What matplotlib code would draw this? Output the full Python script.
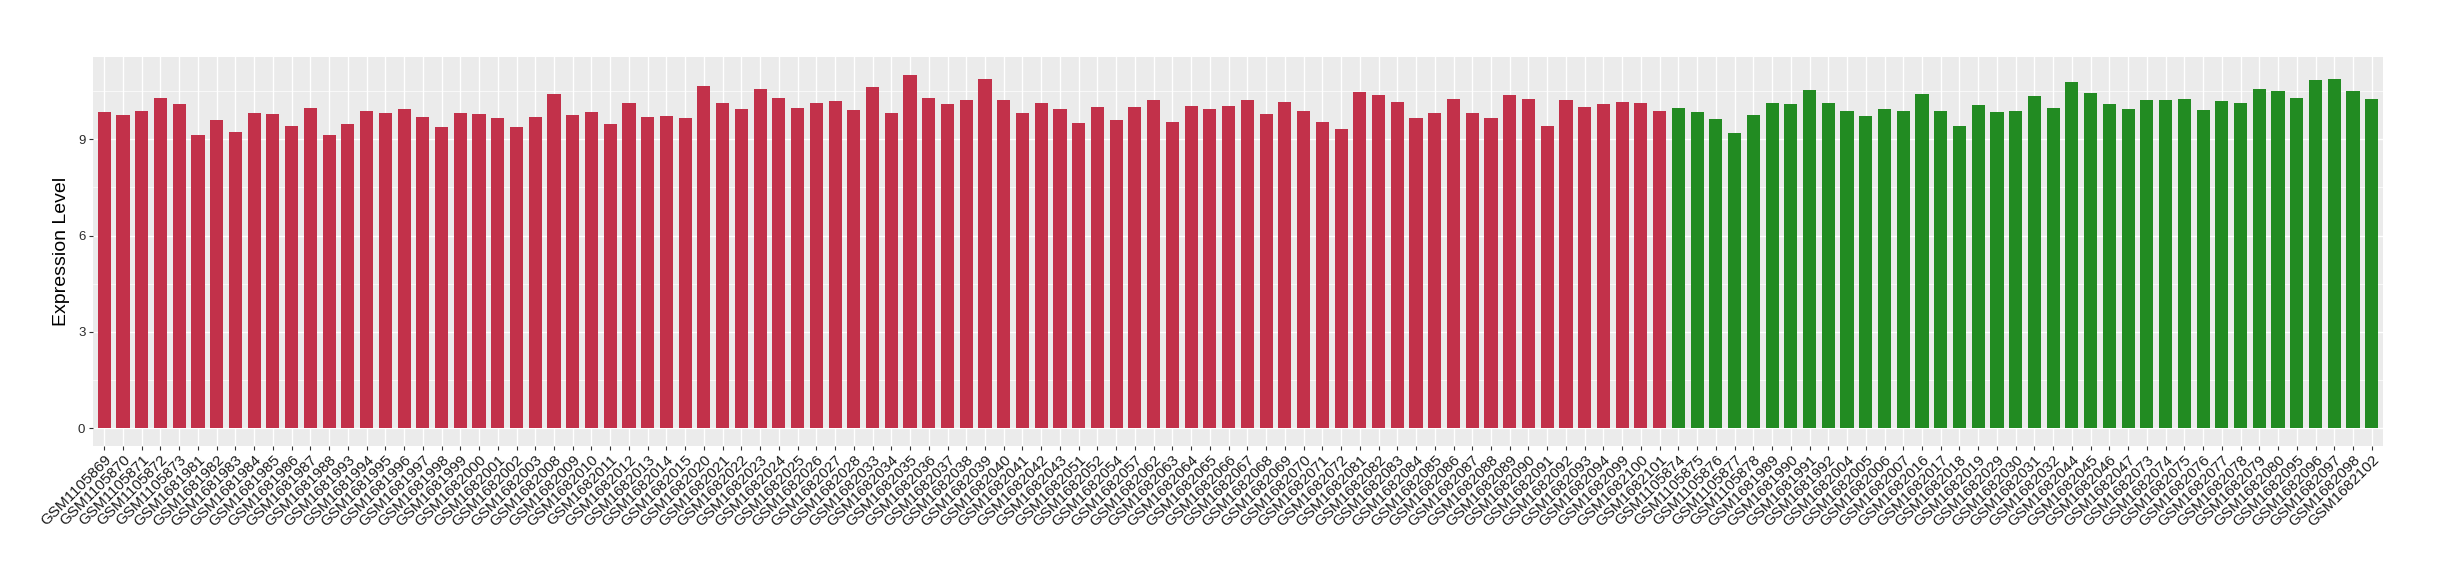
import numpy as np
import matplotlib
matplotlib.use("Agg")
import matplotlib.pyplot as plt

plt.rcParams['font.family'] = ['Liberation Sans', 'DejaVu Sans']

# samples in the first group (red)
red_samples = [
    "GSM1105869", "GSM1105870", "GSM1105871", "GSM1105872", "GSM1105873",
    "GSM1681981", "GSM1681982", "GSM1681983", "GSM1681984", "GSM1681985",
    "GSM1681986", "GSM1681987", "GSM1681988", "GSM1681993", "GSM1681994",
    "GSM1681995", "GSM1681996", "GSM1681997", "GSM1681998", "GSM1681999",
    "GSM1682000", "GSM1682001", "GSM1682002", "GSM1682003", "GSM1682008",
    "GSM1682009", "GSM1682010", "GSM1682011", "GSM1682012", "GSM1682013",
    "GSM1682014", "GSM1682015", "GSM1682020", "GSM1682021", "GSM1682022",
    "GSM1682023", "GSM1682024", "GSM1682025", "GSM1682026", "GSM1682027",
    "GSM1682028", "GSM1682033", "GSM1682034", "GSM1682035", "GSM1682036",
    "GSM1682037", "GSM1682038", "GSM1682039", "GSM1682040", "GSM1682041",
    "GSM1682042", "GSM1682043", "GSM1682051", "GSM1682052", "GSM1682054",
    "GSM1682057", "GSM1682062", "GSM1682063", "GSM1682064", "GSM1682065",
    "GSM1682066", "GSM1682067", "GSM1682068", "GSM1682069", "GSM1682070",
    "GSM1682071", "GSM1682072", "GSM1682081", "GSM1682082", "GSM1682083",
    "GSM1682084", "GSM1682085", "GSM1682086", "GSM1682087", "GSM1682088",
    "GSM1682089", "GSM1682090", "GSM1682091", "GSM1682092", "GSM1682093",
    "GSM1682094", "GSM1682099", "GSM1682100", "GSM1682101",
]
red_values = [
    9.86, 9.76, 9.89, 10.29, 10.11, 9.14, 9.61, 9.23, 9.82, 9.79,
    9.42, 9.98, 9.14, 9.48, 9.89, 9.82, 9.95, 9.70, 9.39, 9.82,
    9.79, 9.67, 9.39, 9.70, 10.42, 9.76, 9.85, 9.48, 10.14, 9.70,
    9.73, 9.67, 10.67, 10.14, 9.95, 10.57, 10.29, 9.98, 10.14, 10.20,
    9.92, 10.64, 9.82, 11.01, 10.29, 10.10, 10.23, 10.89, 10.23, 9.82,
    10.14, 9.95, 9.51, 10.01, 9.60, 10.01, 10.23, 9.54, 10.04, 9.95,
    10.04, 10.23, 9.79, 10.17, 9.89, 9.54, 9.32, 10.48, 10.39, 10.17,
    9.67, 9.82, 10.26, 9.82, 9.67, 10.39, 10.26, 9.42, 10.23, 10.01,
    10.10, 10.17, 10.14, 9.89,
]

# samples in the second group (green)
green_samples = [
    "GSM1105874", "GSM1105875", "GSM1105876", "GSM1105877", "GSM1105878",
    "GSM1681989", "GSM1681990", "GSM1681991", "GSM1681992", "GSM1682004",
    "GSM1682005", "GSM1682006", "GSM1682007", "GSM1682016", "GSM1682017",
    "GSM1682018", "GSM1682019", "GSM1682029", "GSM1682030", "GSM1682031",
    "GSM1682032", "GSM1682044", "GSM1682045", "GSM1682046", "GSM1682047",
    "GSM1682073", "GSM1682074", "GSM1682075", "GSM1682076", "GSM1682077",
    "GSM1682078", "GSM1682079", "GSM1682080", "GSM1682095", "GSM1682096",
    "GSM1682097", "GSM1682098", "GSM1682102",
]
green_values = [
    9.98, 9.85, 9.64, 9.20, 9.76, 10.14, 10.10, 10.54, 10.14, 9.89,
    9.73, 9.95, 9.89, 10.42, 9.89, 9.42, 10.07, 9.85, 9.89, 10.35,
    9.98, 10.79, 10.45, 10.10, 9.95, 10.23, 10.23, 10.26, 9.92, 10.20,
    10.14, 10.57, 10.51, 10.29, 10.85, 10.89, 10.51, 10.26,
]

samples = red_samples + green_samples
values = red_values + green_values
colors = ['#C2314A'] * len(red_samples) + ['#228B22'] * len(green_samples)

fig = plt.figure(figsize=(24.4, 5.8), dpi=100)
ax = fig.add_axes([93 / 2440, 1 - 446 / 580, (2383 - 93) / 2440, (446 - 57) / 580])
ax.set_facecolor('#EBEBEB')

x = np.arange(len(samples))
ax.bar(x, values, width=0.7, color=colors, zorder=3)

n = len(samples)
ax.set_xlim(-0.6, n - 1 + 0.6)
vmax = max(values)
ax.set_ylim(-0.05 * vmax, vmax * 1.05)

ax.set_yticks([0, 3, 6, 9])
ax.set_yticks([1.5, 4.5, 7.5, 10.5], minor=True)
ax.set_xticks(x)
ax.set_xticklabels(samples, rotation=45, ha='right', va='top',
                   rotation_mode='anchor', fontsize=11, color='#1A1A1A')
ax.tick_params(axis='y', labelsize=9.5, labelcolor='#2B2B2B', color='#333333',
               length=3, width=0.8, pad=2.5)
ax.tick_params(axis='x', color='#333333', length=3, width=0.8, pad=2)
ax.tick_params(axis='y', which='minor', length=0)

ax.grid(True, which='major', color='white', linewidth=1.0, zorder=0)
ax.grid(True, which='minor', axis='y', color='white', linewidth=0.5, zorder=0)
ax.set_axisbelow(True)
for s in ax.spines.values():
    s.set_visible(False)

ax.set_ylabel('Expression Level', fontsize=14, labelpad=6)

fig.savefig('out.png', dpi=100)
